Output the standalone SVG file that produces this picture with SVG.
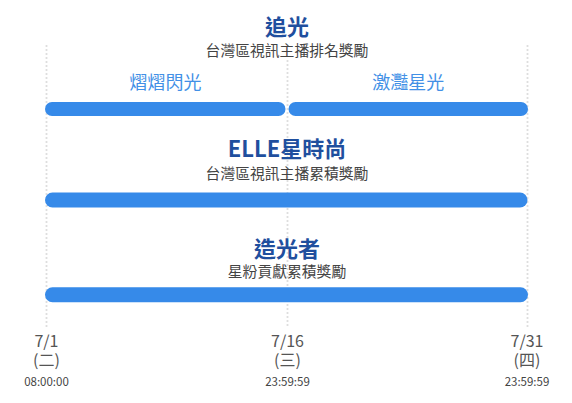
<svg xmlns="http://www.w3.org/2000/svg" width="572" height="403" viewBox="0 0 572 403">
<style>
text{font-family:"Noto Sans CJK TC","Noto Sans",sans-serif;text-anchor:middle}
.title{font-size:22px;font-weight:bold;fill:#1f4f9e}
.sub{font-size:14.8px;fill:#444}
.phase{font-size:18px;fill:#4290e6}
.date{font-size:16px;fill:#555}
.time{font-size:11.5px;fill:#444}
.bar{fill:#368ae9}
.grid{stroke:#dedede;stroke-width:1.8;stroke-dasharray:2 2;fill:none}
</style>
<g id="connectors">
<line class="grid" x1="46.5" y1="45" x2="46.5" y2="327"/>
<line class="grid" x1="287.5" y1="60" x2="287.5" y2="327"/>
<line class="grid" x1="527.5" y1="45" x2="527.5" y2="327"/>
</g>
<g id="row1">
<text class="title" x="287" y="34.5">追光</text>
<text class="sub" x="287" y="56.3">台灣區視訊主播排名獎勵</text>
</g>
<g id="phase1">
<text class="phase" x="165.5" y="89">熠熠閃光</text>
<rect class="bar" x="45" y="102" width="240.5" height="14" rx="7"/>
</g>
<g id="phase2">
<text class="phase" x="408.3" y="89">激灩星光</text>
<rect class="bar" x="288.5" y="102" width="239.5" height="14" rx="7"/>
</g>
<g id="row2">
<text class="title" x="287" y="157">ELLE星時尚</text>
<text class="sub" x="287" y="179">台灣區視訊主播累積獎勵</text>
<rect class="bar" x="45" y="192.5" width="482.5" height="15" rx="7.5"/>
</g>
<g id="row3">
<text class="title" x="287" y="257">造光者</text>
<text class="sub" x="287" y="277">星粉貢獻累積獎勵</text>
<rect class="bar" x="45" y="287.3" width="483" height="15" rx="7.5"/>
</g>
<g id="tick1">
<text class="date" x="46.5" y="347">7/1</text>
<text class="date" x="46.5" y="366">(二)</text>
<text class="time" x="46.5" y="386">08:00:00</text>
</g>
<g id="tick2">
<text class="date" x="287.5" y="347">7/16</text>
<text class="date" x="287.5" y="366">(三)</text>
<text class="time" x="287.5" y="386">23:59:59</text>
</g>
<g id="tick3">
<text class="date" x="527" y="347">7/31</text>
<text class="date" x="527" y="366">(四)</text>
<text class="time" x="527" y="386">23:59:59</text>
</g>
</svg>
